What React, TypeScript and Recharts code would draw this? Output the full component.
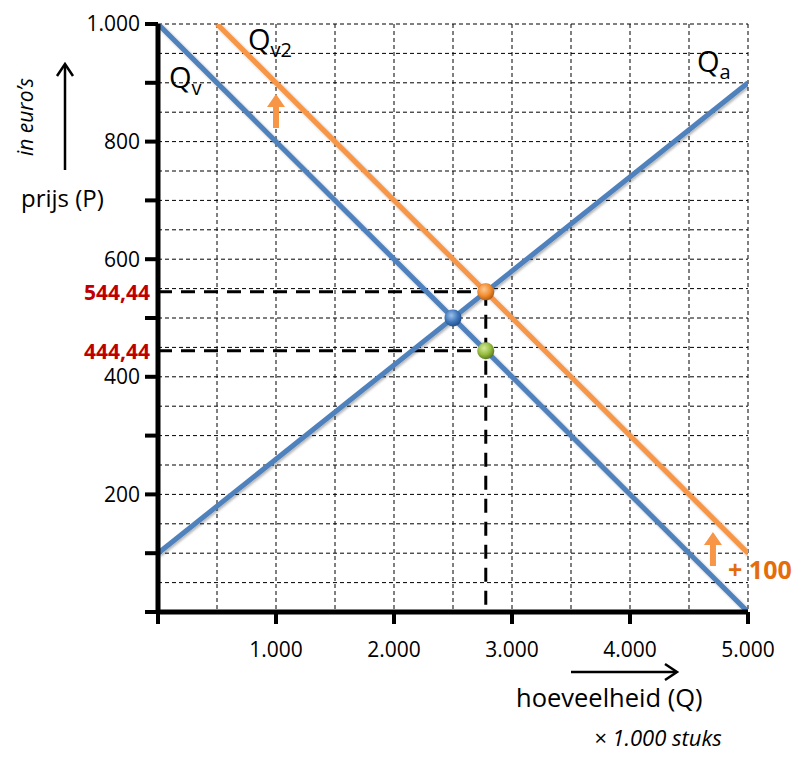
import React from 'react';
import {
  LineChart, Line, XAxis, YAxis, CartesianGrid, ReferenceLine, ReferenceDot,
} from 'recharts';

// demand / supply lines (Q in x 1.000 stuks, P in euro's)
const QV = [{ q: 0, p: 1000 }, { q: 5000, p: 0 }];
const QV2 = [{ q: 500, p: 1000 }, { q: 5000, p: 100 }];
const QA = [{ q: 0, p: 100 }, { q: 5000, p: 900 }];

const X_TICKS = [0, 1000, 2000, 3000, 4000, 5000];
const X_LABELED = [1000, 2000, 3000, 4000, 5000];
const Y_TICKS = [0, 100, 200, 300, 400, 500, 600, 700, 800, 900, 1000];
const Y_LABELED = [200, 400, 600, 800, 1000];
const GRID_X = [500, 1000, 1500, 2000, 2500, 3000, 3500, 4000, 4500, 5000];
const GRID_Y = [50, 100, 150, 200, 250, 300, 350, 400, 450, 500, 550, 600, 650, 700, 750, 800, 850, 900, 950, 1000];

// equilibrium points
const EQ_OLD = { q: 2500, p: 500 };
const EQ_NEW = { q: 2777.78, p: 544.44 };
const EQ_LOW = { q: 2777.78, p: 444.44 };

const BLUE = '#4F81BD';
const ORANGE = '#F79646';
const FONT = '"Open Sans", sans-serif';

const fmt = (v: number) =>
  v >= 1000 ? `${Math.floor(v / 1000)}.${String(v % 1000).padStart(3, '0')}` : String(v);

const UpArrow = (props: any) => {
  const { cx, cy } = props;
  return (
    <path
      d={`M ${cx - 3} ${cy + 17} L ${cx - 3} ${cy - 4} L ${cx - 9} ${cy - 4} L ${cx} ${cy - 17} L ${cx + 9} ${cy - 4} L ${cx + 3} ${cy - 4} L ${cx + 3} ${cy + 17} Z`}
      fill={ORANGE}
    />
  );
};

const sphere = (grad: string) => (props: any) => (
  <circle cx={props.cx} cy={props.cy} r={8.5} fill={`url(#${grad})`} stroke="rgba(0,0,0,0.15)" strokeWidth={0.5} />
);

const curveLabel = (main: string, sub: string) => (props: any) => {
  const { viewBox } = props;
  return (
    <text x={viewBox.cx ?? viewBox.x} y={viewBox.cy ?? viewBox.y} fontFamily={FONT} fill="#000">
      <tspan fontSize={29}>{main}</tspan>
      <tspan fontSize={20} dy={7}>{sub}</tspan>
    </text>
  );
};

const redLabel = (txt: string) => (props: any) => {
  const { viewBox } = props;
  return (
    <text x={viewBox.x - 8} y={viewBox.y} textAnchor="end" dominantBaseline="central"
      fontFamily={FONT} fontWeight={700} fontSize={21} fill="#C00000">
      {txt}
    </text>
  );
};

const App: React.FC = () => {
  return (
    <div style={{ position: 'absolute', left: 0, top: 0, width: 811, height: 770, background: '#fff' }}>
      <LineChart width={811} height={770} margin={{ top: 24, right: 63, bottom: 98, left: 98 }}>
        <defs>
          <radialGradient id="gBlue" cx="40%" cy="35%" r="65%">
            <stop offset="0%" stopColor="#9DC0EA" />
            <stop offset="60%" stopColor="#3F77BC" />
            <stop offset="100%" stopColor="#24528C" />
          </radialGradient>
          <radialGradient id="gOrange" cx="40%" cy="35%" r="65%">
            <stop offset="0%" stopColor="#FCC994" />
            <stop offset="60%" stopColor="#F28C2E" />
            <stop offset="100%" stopColor="#B75E12" />
          </radialGradient>
          <radialGradient id="gGreen" cx="40%" cy="35%" r="65%">
            <stop offset="0%" stopColor="#D4EA9C" />
            <stop offset="60%" stopColor="#95BB3F" />
            <stop offset="100%" stopColor="#5F7E22" />
          </radialGradient>
          <filter id="shadow" x="-10%" y="-10%" width="120%" height="120%">
            <feDropShadow dx="1.5" dy="1.5" stdDeviation="1.2" floodColor="#000" floodOpacity="0.3" />
          </filter>
        </defs>
        <CartesianGrid
          stroke="#000"
          strokeWidth={1}
          strokeDasharray="4 3"
          horizontalValues={GRID_Y}
          verticalValues={GRID_X}
        />
        <XAxis
          type="number"
          dataKey="q"
          domain={[0, 5000]}
          ticks={X_TICKS}
          height={60}
          axisLine={{ stroke: '#000', strokeWidth: 5 }}
          tickLine={{ stroke: '#000', strokeWidth: 4 }}
          tickSize={12}
          tickMargin={18}
          tickFormatter={(v: number) => (X_LABELED.includes(v) ? fmt(v) : '')}
          tick={{ fill: '#000', fontSize: 21, fontFamily: FONT }}
          interval={0}
          allowDataOverflow
        />
        <YAxis
          type="number"
          domain={[0, 1000]}
          ticks={Y_TICKS}
          width={60}
          axisLine={{ stroke: '#000', strokeWidth: 5 }}
          tickLine={{ stroke: '#000', strokeWidth: 4 }}
          tickSize={13}
          tickMargin={5}
          tickFormatter={(v: number) => (Y_LABELED.includes(v) ? fmt(v) : '')}
          tick={{ fill: '#000', fontSize: 21, fontFamily: FONT }}
          interval={0}
          allowDataOverflow
        />

        <ReferenceLine
          segment={[{ x: 0, y: EQ_NEW.p }, { x: EQ_NEW.q, y: EQ_NEW.p }]}
          stroke="#000" strokeWidth={3} strokeDasharray="14 9" ifOverflow="visible"
          label={redLabel('544,44')}
        />
        <ReferenceLine
          segment={[{ x: 0, y: EQ_LOW.p }, { x: EQ_LOW.q, y: EQ_LOW.p }]}
          stroke="#000" strokeWidth={3} strokeDasharray="14 9" ifOverflow="visible"
          label={redLabel('444,44')}
        />
        <ReferenceLine
          segment={[{ x: EQ_NEW.q, y: EQ_NEW.p }, { x: EQ_NEW.q, y: 0 }]}
          stroke="#000" strokeWidth={3} strokeDasharray="14 9" ifOverflow="visible"
        />

        <Line data={QV} dataKey="p" stroke={BLUE} strokeWidth={5} dot={false} isAnimationActive={false} filter="url(#shadow)" />
        <Line data={QA} dataKey="p" stroke={BLUE} strokeWidth={5} dot={false} isAnimationActive={false} filter="url(#shadow)" />
        <Line data={QV2} dataKey="p" stroke={ORANGE} strokeWidth={5} dot={false} isAnimationActive={false} filter="url(#shadow)" />

        <ReferenceDot x={EQ_OLD.q} y={EQ_OLD.p} shape={sphere('gBlue')} ifOverflow="visible" />
        <ReferenceDot x={EQ_NEW.q} y={EQ_NEW.p} shape={sphere('gOrange')} ifOverflow="visible" />
        <ReferenceDot x={EQ_LOW.q} y={EQ_LOW.p} shape={sphere('gGreen')} ifOverflow="visible" />

        <ReferenceDot x={1000} y={852} shape={UpArrow} ifOverflow="visible" />
        <ReferenceDot x={4703} y={107} shape={UpArrow} ifOverflow="visible" />

        <ReferenceDot x={93} y={891} r={0} fill="none" stroke="none" ifOverflow="visible" label={curveLabel('Q', 'v')} />
        <ReferenceDot x={763} y={956} r={0} fill="none" stroke="none" ifOverflow="visible" label={curveLabel('Q', 'v2')} />
        <ReferenceDot x={4568} y={918} r={0} fill="none" stroke="none" ifOverflow="visible" label={curveLabel('Q', 'a')} />
        <ReferenceDot
          x={4831} y={73} r={0} fill="none" stroke="none" ifOverflow="visible"
          label={(props: any) => (
            <text x={props.viewBox.cx ?? props.viewBox.x} y={props.viewBox.cy ?? props.viewBox.y}
              dominantBaseline="central" fontFamily={FONT} fontWeight={700} fontSize={25} fill="#E46C0A">
              + 100
            </text>
          )}
        />
      </LineChart>

      <svg width={811} height={770} style={{ position: 'absolute', left: 0, top: 0, pointerEvents: 'none' }}>
        <text x={33} y={117} transform="rotate(-90 33 117)" textAnchor="middle" fontFamily={FONT}
          fontStyle="italic" fontSize={21} fill="#000">in euro’s</text>
        <line x1={65} y1={170} x2={65} y2={66} stroke="#000" strokeWidth={2.5} />
        <polyline points="57,76 65,64 73,76" fill="none" stroke="#000" strokeWidth={2.5} />
        <text x={21} y={207} fontFamily={FONT} fontSize={24} fill="#000">prijs (P)</text>

        <line x1={571} y1={672} x2={676} y2={672} stroke="#000" strokeWidth={2.5} />
        <polyline points="665,664 677,672 665,680" fill="none" stroke="#000" strokeWidth={2.5} />
        <text x={516} y={707} fontFamily={FONT} fontSize={25.5} fill="#000">hoeveelheid (Q)</text>
        <text x={594} y={746} fontFamily={FONT} fontStyle="italic" fontSize={22} fill="#000">× 1.000 stuks</text>
      </svg>
    </div>
  );
};

export default App;
